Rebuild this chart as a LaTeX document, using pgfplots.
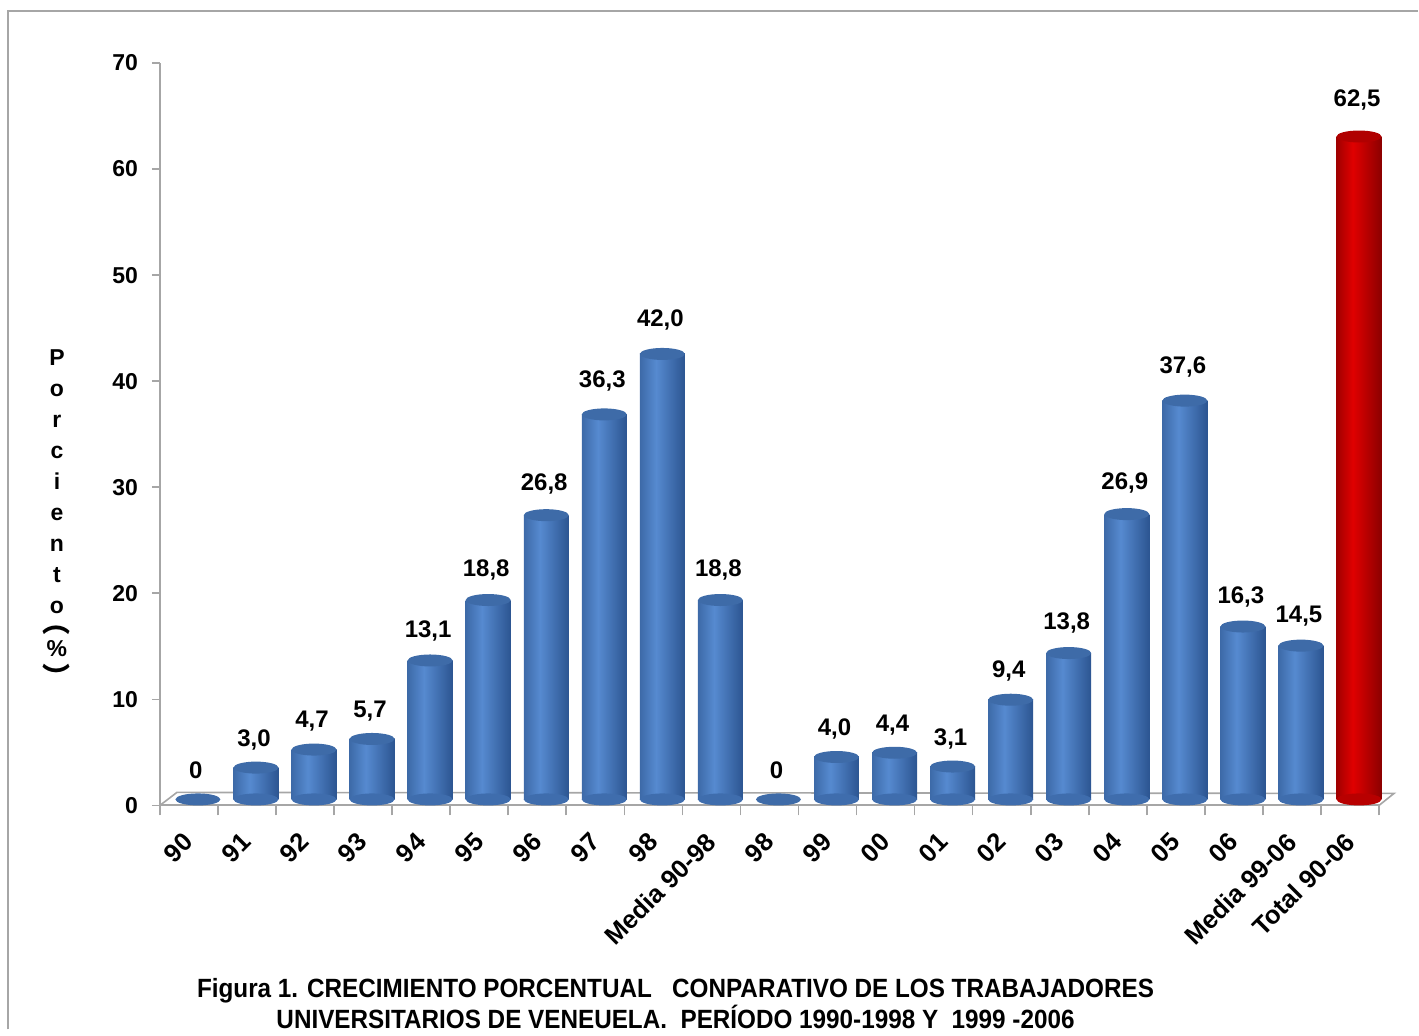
\documentclass[border=0pt]{standalone}
\usepackage{fontspec}
\setmainfont{Liberation Sans}
\newfontfamily\narrowfont[FakeStretch=0.92]{Liberation Sans}
\newfontfamily\cjk{Noto Sans CJK SC}
\usepackage{pgfplots}
\usepackage{pgfplotstable}
\pgfplotsset{compat=1.18}

\definecolor{bL}{HTML}{3D6AA8}
\definecolor{bM}{HTML}{568AD0}
\definecolor{bR}{HTML}{2C5591}
\definecolor{bBot}{HTML}{3F6DAD}
\definecolor{bTop}{HTML}{3E6BA8}
\definecolor{rL}{HTML}{A00000}
\definecolor{rM}{HTML}{E00000}
\definecolor{rR}{HTML}{8C0000}
\definecolor{rBot}{HTML}{B80000}
\definecolor{rTop}{HTML}{B00000}
\definecolor{frame}{HTML}{A6A6A6}

\pgfdeclarehorizontalshading{blueshade}{100bp}{color(0bp)=(bL); color(25bp)=(bL); color(43bp)=(bM); color(75bp)=(bR); color(100bp)=(bR)}
\pgfdeclarehorizontalshading{redshade}{100bp}{color(0bp)=(rL); color(25bp)=(rL); color(43bp)=(rM); color(75bp)=(rR); color(100bp)=(rR)}

% cylinder caps
\pgfdeclareplotmark{btopB}{\pgfpathellipse{\pgfpointorigin}{\pgfqpoint{11.25pt}{0pt}}{\pgfqpoint{0pt}{3pt}}\pgfsetfillcolor{bTop}\pgfusepath{fill}}
\pgfdeclareplotmark{btopR}{\pgfpathellipse{\pgfpointorigin}{\pgfqpoint{11.25pt}{0pt}}{\pgfqpoint{0pt}{3pt}}\pgfsetfillcolor{rTop}\pgfusepath{fill}}
\pgfdeclareplotmark{bbotB}{\pgfpathellipse{\pgfpointorigin}{\pgfqpoint{11.25pt}{0pt}}{\pgfqpoint{0pt}{3pt}}\pgfsetfillcolor{bBot}\pgfusepath{fill}}
\pgfdeclareplotmark{bbotR}{\pgfpathellipse{\pgfpointorigin}{\pgfqpoint{11.25pt}{0pt}}{\pgfqpoint{0pt}{3pt}}\pgfsetfillcolor{rBot}\pgfusepath{fill}}

\pgfplotstableread{
x  y    lab
0  0    0
1  3.0  3,0
2  4.7  4,7
3  5.7  5,7
4  13.1 13,1
5  18.8 18,8
6  26.8 26,8
7  36.3 36,3
8  42.0 42,0
9  18.8 18,8
10 0    0
11 4.0  4,0
12 4.4  4,4
13 3.1  3,1
14 9.4  9,4
15 13.8 13,8
16 26.9 26,9
17 37.6 37,6
18 16.3 16,3
19 14.5 14,5
}\blue
\pgfplotstableread{
x  y    lab
20 62.5 62,5
}\total

\begin{document}
\begin{tikzpicture}
\path (0,0) rectangle (709.5pt,515pt);
\draw[frame, line width=1pt] (4.25pt,0) -- (4.25pt,509.5pt) -- (709.5pt,509.5pt);

\begin{scope}[font=\bfseries\fontsize{11.5}{15.5}\selectfont]
\node[align=center, inner sep=0pt, anchor=north] at (28.5pt,340pt) {P\\o\\r\\c\\i\\e\\n\\t\\o};
\node[inner sep=0pt] at (28.5pt,190.5pt) {\%};
\end{scope}
\node[font=\cjk\bfseries\fontsize{14}{14}\selectfont, inner sep=0pt, anchor=base] at (28.5pt,198.6pt) {︵};
\node[font=\cjk\bfseries\fontsize{14}{14}\selectfont, inner sep=0pt, anchor=base] at (28.5pt,171pt) {︶};

\node[font=\narrowfont\bfseries\fontsize{13.2}{13}\selectfont, align=center] at (338pt,13pt)
  {Figura 1. CRECIMIENTO PORCENTUAL~~~CONPARATIVO DE LOS TRABAJADORES\\
   UNIVERSITARIOS DE VENEUELA.~~PERÍODO 1990-1998 Y~~1999 -2006};

\begin{axis}[
  at={(80pt,112pt)}, anchor=south west,
  scale only axis, width=610pt, height=371.5pt,
  xmin=-0.5, xmax=20.5, ymin=0, ymax=70,
  clip=false, set layers,
  axis lines*=left,
  axis line style={draw=frame, line width=1pt},
  ytick={0,10,...,70},
  xtick={0,...,20},
  xticklabels={90,91,92,93,94,95,96,97,98,Media 90-98,98,99,00,01,02,03,04,05,06,Media 99-06,Total 90-06},
  minor xtick={-0.5,0.5,...,20.5},
  tick align=outside,
  major tick length=4pt, minor tick length=5pt,
  major x tick style={draw=none},
  minor x tick style={draw=frame, line width=0.8pt},
  major y tick style={draw=frame, line width=0.8pt},
  /pgf/number format/assume math mode=true,
  yticklabel style={font=\bfseries\fontsize{11.5}{13}\selectfont, xshift=-3.5pt},
  xticklabel style={font=\bfseries\fontsize{12.8}{14}\selectfont, yshift=-12pt, rotate=45, anchor=east, inner sep=0pt},
  cyl/.style={ybar, bar width=22.5pt, bar shift=0pt, xshift=4.5pt, yshift=3pt, draw=none, shade},
  caps/.style={only marks, xshift=4.5pt, yshift=3pt, point meta=explicit symbolic, nodes near coords,
    visualization depends on={y \as \yv},
    every node near coord/.append style={font=\bfseries\fontsize{12}{14}\selectfont, anchor=base,
      inner sep=0pt, yshift={(10.5+0.075*\yv)*1pt}, xshift=-1pt, text=black}},
]
\begin{pgfonlayer}{axis background}
\draw[frame, line width=0.8pt] (axis cs:-0.5,0) -- ([xshift=8.5pt,yshift=6.5pt]axis cs:-0.5,0)
  -- ([xshift=7.5pt,yshift=6pt]axis cs:20.5,0) -- (axis cs:20.5,0);
\end{pgfonlayer}

% rounded feet
\addplot[only marks, mark=bbotB, xshift=4.5pt, yshift=3pt] coordinates {
  (1,0)(2,0)(3,0)(4,0)(5,0)(6,0)(7,0)(8,0)(9,0)(11,0)(12,0)(13,0)(14,0)(15,0)(16,0)(17,0)(18,0)(19,0)};
\addplot[only marks, mark=bbotR, xshift=4.5pt, yshift=3pt] coordinates {(20,0)};

% one plot per bar, so each cylinder gets its own shading
\pgfplotsinvokeforeach{1,2,3,4,5,6,7,8,9,11,12,13,14,15,16,17,18,19}{
  \addplot[cyl, shading=blueshade, restrict x to domain=#1:#1] table[x=x, y=y] {\blue};
}
\addplot[cyl, shading=redshade] table[x=x, y=y] {\total};

\addplot[caps, mark=btopB] table[x=x, y=y, meta=lab] {\blue};
\addplot[caps, mark=btopR] table[x=x, y=y, meta=lab] {\total};
\end{axis}
\end{tikzpicture}
\end{document}
